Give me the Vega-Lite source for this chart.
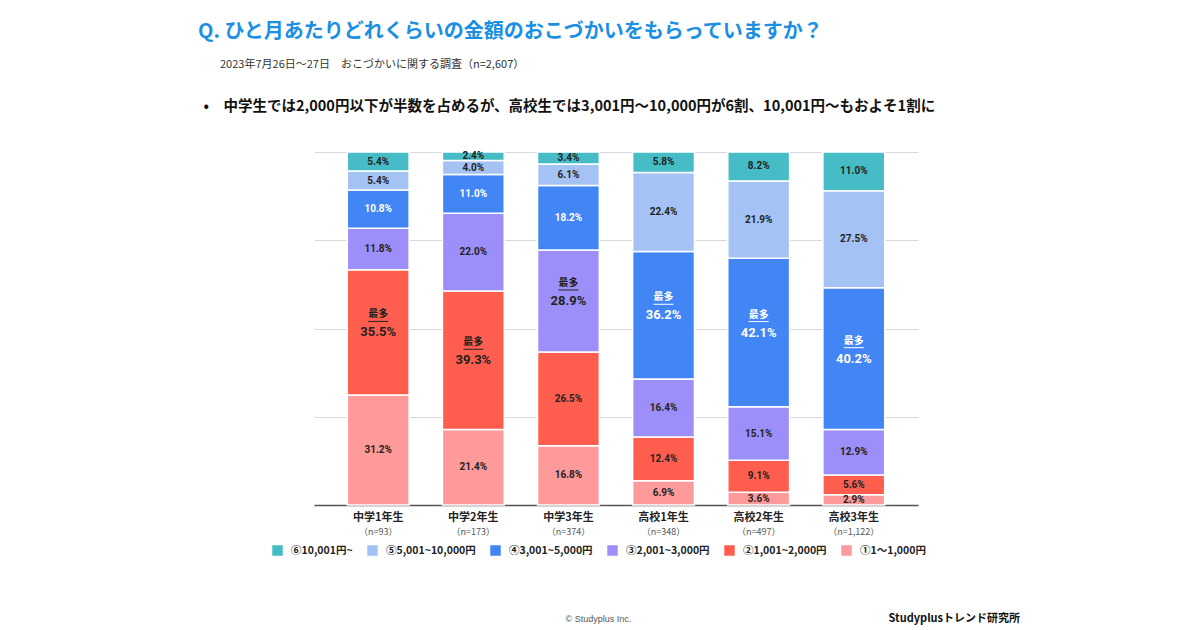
{
  "$schema": "https://vega.github.io/schema/vega-lite/v6.json",
  "width": 604,
  "height": 353,
  "autosize": {"type": "none"},
  "padding": {"left": 314, "top": 152, "right": 282, "bottom": 125},
  "background": "white",
  "config": {
    "view": {"stroke": null},
    "font": "Noto Sans CJK JP"
  },
  "title": {
    "text": "Q. ひと月あたりどれくらいの金額のおこづかいをもらっていますか？",
    "subtitle": "\u200b\u3000\u30002023年7月26日～27日　おこづかいに関する調査（n=2,607）",
    "anchor": "start",
    "frame": "group",
    "dx": -116,
    "offset": 28,
    "font": "Noto Sans CJK JP",
    "fontSize": 20,
    "fontWeight": "bold",
    "color": "#1a8fe3",
    "subtitleFont": "Noto Sans CJK JP",
    "subtitleFontSize": 11,
    "subtitleColor": "#333333",
    "subtitlePadding": 17
  },
  "data": {
    "values": [
      {"g": "中学1年生", "c": "①1〜1,000円", "p": 0.312, "best": false},
      {"g": "中学1年生", "c": "②1,001~2,000円", "p": 0.355, "best": true},
      {"g": "中学1年生", "c": "③2,001~3,000円", "p": 0.118, "best": false},
      {"g": "中学1年生", "c": "④3,001~5,000円", "p": 0.108, "best": false},
      {"g": "中学1年生", "c": "⑤5,001~10,000円", "p": 0.054, "best": false},
      {"g": "中学1年生", "c": "⑥10,001円~", "p": 0.054, "best": false},
      {"g": "中学2年生", "c": "①1〜1,000円", "p": 0.214, "best": false},
      {"g": "中学2年生", "c": "②1,001~2,000円", "p": 0.393, "best": true},
      {"g": "中学2年生", "c": "③2,001~3,000円", "p": 0.220, "best": false},
      {"g": "中学2年生", "c": "④3,001~5,000円", "p": 0.110, "best": false},
      {"g": "中学2年生", "c": "⑤5,001~10,000円", "p": 0.040, "best": false},
      {"g": "中学2年生", "c": "⑥10,001円~", "p": 0.024, "best": false},
      {"g": "中学3年生", "c": "①1〜1,000円", "p": 0.168, "best": false},
      {"g": "中学3年生", "c": "②1,001~2,000円", "p": 0.265, "best": false},
      {"g": "中学3年生", "c": "③2,001~3,000円", "p": 0.289, "best": true},
      {"g": "中学3年生", "c": "④3,001~5,000円", "p": 0.182, "best": false},
      {"g": "中学3年生", "c": "⑤5,001~10,000円", "p": 0.061, "best": false},
      {"g": "中学3年生", "c": "⑥10,001円~", "p": 0.034, "best": false},
      {"g": "高校1年生", "c": "①1〜1,000円", "p": 0.069, "best": false},
      {"g": "高校1年生", "c": "②1,001~2,000円", "p": 0.124, "best": false},
      {"g": "高校1年生", "c": "③2,001~3,000円", "p": 0.164, "best": false},
      {"g": "高校1年生", "c": "④3,001~5,000円", "p": 0.362, "best": true},
      {"g": "高校1年生", "c": "⑤5,001~10,000円", "p": 0.224, "best": false},
      {"g": "高校1年生", "c": "⑥10,001円~", "p": 0.058, "best": false},
      {"g": "高校2年生", "c": "①1〜1,000円", "p": 0.036, "best": false},
      {"g": "高校2年生", "c": "②1,001~2,000円", "p": 0.091, "best": false},
      {"g": "高校2年生", "c": "③2,001~3,000円", "p": 0.151, "best": false},
      {"g": "高校2年生", "c": "④3,001~5,000円", "p": 0.421, "best": true},
      {"g": "高校2年生", "c": "⑤5,001~10,000円", "p": 0.219, "best": false},
      {"g": "高校2年生", "c": "⑥10,001円~", "p": 0.082, "best": false},
      {"g": "高校3年生", "c": "①1〜1,000円", "p": 0.029, "best": false},
      {"g": "高校3年生", "c": "②1,001~2,000円", "p": 0.056, "best": false},
      {"g": "高校3年生", "c": "③2,001~3,000円", "p": 0.129, "best": false},
      {"g": "高校3年生", "c": "④3,001~5,000円", "p": 0.402, "best": true},
      {"g": "高校3年生", "c": "⑤5,001~10,000円", "p": 0.275, "best": false},
      {"g": "高校3年生", "c": "⑥10,001円~", "p": 0.110, "best": false}
    ]
  },
  "resolve": {"axis": {"x": "independent"}},
  "layer": [
    {
      "mark": {"type": "bar", "stroke": "white", "strokeWidth": 1.5},
      "encoding": {
        "x": {
          "field": "g", "type": "nominal", "sort": null,
          "scale": {"paddingInner": 0.35, "paddingOuter": 0.35},
          "axis": {
            "orient": "bottom",
            "title": "© Studyplus Inc.",
            "titleX": 251, "titleY": 113,
            "titleAlign": "left", "titleBaseline": "middle",
            "titleFont": "Liberation Sans", "titleFontSize": 9, "titleFontWeight": "normal", "titleColor": "#555555",
            "labelAngle": 0,
            "labelFont": "Noto Sans CJK JP", "labelFontSize": 11, "labelFontWeight": "bold", "labelColor": "#222222",
            "labelPadding": 6,
            "ticks": false,
            "domainColor": "#555555", "domainWidth": 1.5
          }
        },
        "y": {
          "field": "p", "type": "quantitative", "stack": "normalize",
          "axis": {
            "title": "•\u3000中学生では2,000円以下が半数を占めるが、高校生では3,001円～10,000円が6割、10,001円～もおよそ1割に",
            "titleAngle": 0, "titleX": -111, "titleY": -46,
            "titleAlign": "left", "titleBaseline": "middle",
            "titleFont": "Noto Sans CJK JP", "titleFontSize": 14.5, "titleFontWeight": "bold", "titleColor": "#111111",
            "labels": false, "ticks": false, "domain": false,
            "values": [0, 0.25, 0.5, 0.75, 1],
            "grid": true, "gridColor": "#d9d9d9", "gridWidth": 1
          }
        },
        "color": {
          "field": "c", "type": "nominal",
          "scale": {
            "domain": ["⑥10,001円~", "⑤5,001~10,000円", "④3,001~5,000円", "③2,001~3,000円", "②1,001~2,000円", "①1〜1,000円"],
            "range": ["#46bdc6", "#a4c2f4", "#4285f4", "#9d8ffa", "#ff5e4f", "#ff9a9a"]
          },
          "legend": {
            "orient": "none", "direction": "horizontal", "columns": 6,
            "legendX": -42, "legendY": 393,
            "title": null,
            "symbolType": "square", "symbolSize": 110, "symbolStrokeWidth": 0,
            "labelFont": "Noto Sans CJK JP", "labelFontSize": 10.5, "labelFontWeight": "bold", "labelColor": "#222222",
            "labelOffset": 8, "columnPadding": 14, "labelLimit": 200
          }
        },
        "order": {"field": "c", "sort": "ascending"}
      }
    },
    {
      "mark": {"type": "text", "font": "Roboto, Noto Sans CJK JP", "fontWeight": "bold", "baseline": "middle"},
      "encoding": {
        "x": {
          "field": "g", "type": "nominal", "sort": null,
          "axis": {
            "orient": "bottom", "offset": 16,
            "labelExpr": "{'中学1年生':'（n=93）','中学2年生':'（n=173）','中学3年生':'（n=374）','高校1年生':'（n=348）','高校2年生':'（n=497）','高校3年生':'（n=1,122）'}[datum.label]",
            "title": "Studyplusトレンド研究所",
            "titleX": 574, "titleY": 97,
            "titleAlign": "left", "titleBaseline": "middle",
            "titleFont": "Noto Sans CJK JP", "titleFontSize": 11, "titleFontWeight": "bold", "titleColor": "#111111",
            "labelAngle": 0,
            "labelFont": "Noto Sans CJK JP", "labelFontSize": 9, "labelColor": "#555555",
            "labelPadding": 6,
            "ticks": false, "domain": false
          }
        },
        "y": {"field": "p", "type": "quantitative", "stack": "normalize", "bandPosition": 0.5},
        "order": {"field": "c", "sort": "ascending"},
        "text": {"field": "p", "type": "quantitative", "format": ".1%"},
        "size": {"condition": {"test": "datum.best", "value": 13}, "value": 10},
        "color": {"condition": {"test": "datum.c === '④3,001~5,000円'", "value": "white"}, "value": "#222222"}
      }
    },
    {
      "mark": {"type": "text", "font": "Noto Sans CJK JP", "fontSize": 10, "fontWeight": "bold", "baseline": "middle", "dy": -18},
      "encoding": {
        "x": {"field": "g", "type": "nominal", "sort": null, "axis": null},
        "y": {"field": "p", "type": "quantitative", "stack": "normalize", "bandPosition": 0.5},
        "order": {"field": "c", "sort": "ascending"},
        "text": {"condition": {"test": "datum.best", "value": "最多"}, "value": ""},
        "color": {"condition": {"test": "datum.c === '④3,001~5,000円'", "value": "white"}, "value": "#222222"}
      }
    },
    {
      "mark": {"type": "tick", "orient": "horizontal", "size": 20, "thickness": 1, "yOffset": -11},
      "encoding": {
        "x": {"field": "g", "type": "nominal", "sort": null, "axis": null},
        "y": {"field": "p", "type": "quantitative", "stack": "normalize", "bandPosition": 0.5},
        "order": {"field": "c", "sort": "ascending"},
        "opacity": {"condition": {"test": "datum.best", "value": 1}, "value": 0},
        "color": {"condition": {"test": "datum.c === '④3,001~5,000円'", "value": "white"}, "value": "#222222"}
      }
    }
  ]
}
